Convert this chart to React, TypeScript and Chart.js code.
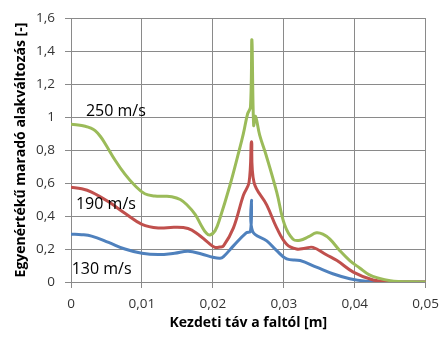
import { useEffect, useRef } from 'react';
import { Chart, registerables } from 'chart.js';

Chart.register(...registerables);

const seriesNames = ['250 m/s', '190 m/s', '130 m/s'];

const x250 = [0, 0.001, 0.002, 0.0027, 0.0034, 0.0041, 0.0048, 0.0062, 0.0076, 0.009, 0.0104, 0.0118, 0.0132, 0.0142, 0.0154, 0.0163, 0.0175, 0.0184, 0.0191, 0.0196, 0.0203, 0.021, 0.0224, 0.0236, 0.0243, 0.0249, 0.0253, 0.0255, 0.02575, 0.026, 0.0266, 0.0275, 0.029, 0.0301, 0.0313, 0.0323, 0.0335, 0.0346, 0.0355, 0.0365, 0.0379, 0.0393, 0.0407, 0.042, 0.0435, 0.045, 0.0463, 0.048, 0.05];
const y250 = [0.956, 0.952, 0.944, 0.935, 0.918, 0.885, 0.84, 0.74, 0.654, 0.585, 0.535, 0.522, 0.52, 0.517, 0.5, 0.47, 0.41, 0.34, 0.295, 0.285, 0.31, 0.387, 0.585, 0.78, 0.9, 1.02, 1.06, 1.468, 0.95, 1.005, 0.89, 0.77, 0.545, 0.348, 0.259, 0.253, 0.275, 0.298, 0.29, 0.26, 0.19, 0.13, 0.085, 0.045, 0.022, 0.008, 0.003, 0.001, 0];

const x190 = [0, 0.0015, 0.0029, 0.0053, 0.0076, 0.01, 0.0123, 0.0146, 0.0165, 0.0179, 0.0193, 0.0203, 0.021, 0.0215, 0.0229, 0.0243, 0.0251, 0.02545, 0.0258, 0.0276, 0.029, 0.0304, 0.0318, 0.033, 0.0341, 0.036, 0.0375, 0.0398, 0.0426, 0.045, 0.05];
const y190 = [0.575, 0.565, 0.545, 0.486, 0.417, 0.35, 0.328, 0.332, 0.324, 0.29, 0.24, 0.21, 0.212, 0.219, 0.328, 0.526, 0.604, 0.85, 0.604, 0.466, 0.328, 0.229, 0.2, 0.205, 0.21, 0.165, 0.13, 0.06, 0.012, 0.002, 0];

const x130 = [0, 0.0015, 0.0029, 0.0053, 0.0076, 0.01, 0.0123, 0.0146, 0.0165, 0.0184, 0.02, 0.021, 0.0215, 0.0229, 0.0247, 0.0253, 0.02545, 0.0256, 0.0276, 0.029, 0.0304, 0.0323, 0.0346, 0.0369, 0.0393, 0.0416, 0.044, 0.05];
const y130 = [0.29, 0.287, 0.278, 0.24, 0.2, 0.174, 0.166, 0.174, 0.186, 0.17, 0.15, 0.144, 0.154, 0.219, 0.298, 0.308, 0.496, 0.308, 0.249, 0.19, 0.14, 0.13, 0.09, 0.05, 0.02, 0.005, 0.001, 0];

const xTitle = 'Kezdeti táv a faltól [m]';
const yTitle = 'Egyenértékű maradó alakváltozás [-]';

// label anchor in data units: [x, y]
const labelX = [0.0021, 0.0007, 0.0001];
const labelY = [1.007, 0.443, 0.049];

const colors = ['#9BBB59', '#C0504D', '#4F81BD'];

function pts(xs: number[], ys: number[]) {
  return xs.map((x, i) => ({ x, y: ys[i] }));
}

function fmt(v: number, d: number) {
  const r = Math.round(v * Math.pow(10, d)) / Math.pow(10, d);
  return r.toString().replace('.', ',');
}

export default function App() {
  const ref = useRef<HTMLCanvasElement | null>(null);

  useEffect(() => {
    document.body.style.margin = '0';
    const canvas = ref.current;
    if (!canvas) return;

    const labelPlugin = {
      id: 'seriesLabels',
      afterDatasetsDraw(chart: any) {
        const { ctx, scales } = chart;
        ctx.save();
        ctx.font = '16px "Open Sans"';
        ctx.fillStyle = '#000';
        ctx.textAlign = 'left';
        ctx.textBaseline = 'alphabetic';
        seriesNames.forEach((n, i) => {
          ctx.fillText(n, scales.x.getPixelForValue(labelX[i]), scales.y.getPixelForValue(labelY[i]));
        });
        ctx.restore();
      },
    };

    const chart = new Chart(canvas, {
      type: 'line',
      data: {
        datasets: [
          { label: seriesNames[0], data: pts(x250, y250), borderColor: colors[0] },
          { label: seriesNames[1], data: pts(x190, y190), borderColor: colors[1] },
          { label: seriesNames[2], data: pts(x130, y130), borderColor: colors[2] },
        ].map((d) => ({
          ...d,
          borderWidth: 3,
          pointRadius: 0,
          fill: false,
          tension: 0.4,
          borderJoinStyle: 'round' as const,
          borderCapStyle: 'round' as const,
        })),
      },
      options: {
        responsive: false,
        animation: false,
        layout: { padding: { left: 0, top: 12, right: 21, bottom: 0 } },
        plugins: { legend: { display: false }, tooltip: { enabled: false } },
        scales: {
          x: {
            type: 'linear',
            min: 0,
            max: 0.05,
            afterFit: (s: any) => { s.height = 59; },
            ticks: {
              stepSize: 0.01,
              padding: 8,
              color: '#333',
              font: { family: '"Open Sans"', size: 13.5 },
              callback: (v: any) => fmt(Number(v), 2),
              maxRotation: 0,
            },
            grid: { color: '#8a8a8a', tickLength: 6, lineWidth: 1 },
            border: { color: '#8a8a8a' },
            title: {
              display: true,
              text: xTitle,
              color: '#000',
              font: { family: '"Open Sans"', size: 14, weight: 'bold' },
              padding: { top: 0, bottom: 10 },
            },
          },
          y: {
            min: 0,
            max: 1.6,
            afterFit: (s: any) => { s.width = 71; },
            ticks: {
              stepSize: 0.2,
              padding: 10,
              color: '#333',
              font: { family: '"Open Sans"', size: 13.5 },
              callback: (v: any) => fmt(Number(v), 1),
            },
            grid: { color: '#8a8a8a', tickLength: 6, lineWidth: 1 },
            border: { color: '#8a8a8a' },
            title: {
              display: true,
              text: yTitle,
              color: '#000',
              font: { family: '"Open Sans"', size: 14, weight: 'bold' },
              padding: { top: 13, bottom: 0 },
            },
          },
        },
      },
      plugins: [labelPlugin],
    });

    return () => chart.destroy();
  }, []);

  return (
    <div style={{ width: 447, height: 341 }}>
      <canvas ref={ref} width={447} height={341} />
    </div>
  );
}
